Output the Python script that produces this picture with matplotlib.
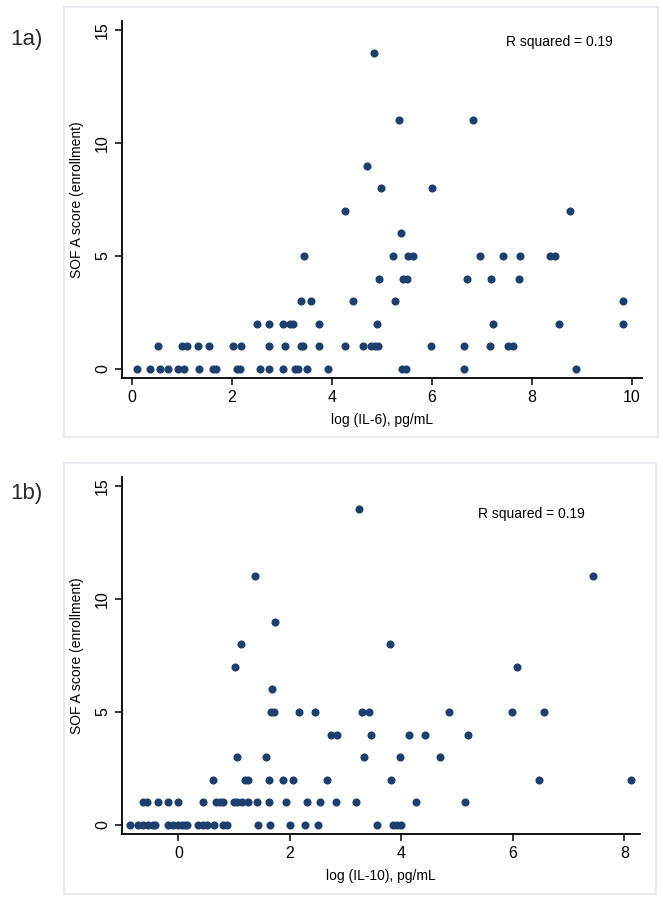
import matplotlib
matplotlib.use("Agg")
import matplotlib.pyplot as plt
from matplotlib.patches import Rectangle

plt.rcParams['font.family'] = ['Liberation Sans', 'DejaVu Sans']

# panel a: log(IL-6) values grouped by SOFA score
il6_levels = [0, 1, 2, 3, 4, 5, 6, 7, 8, 9, 11, 14]
il6_x = [
    [0.10, 0.37, 0.56, 0.72, 0.93, 1.05, 1.35, 1.63, 1.68, 2.10, 2.16, 2.56, 2.75,
     3.03, 3.26, 3.33, 3.51, 3.92, 5.41, 5.48, 6.64, 8.89],
    [0.53, 1.00, 1.10, 1.33, 1.55, 2.03, 2.19, 2.75, 3.06, 3.38, 3.42, 3.74, 4.26,
     4.62, 4.79, 4.86, 4.93, 5.98, 6.65, 7.17, 7.53, 7.63],
    [2.51, 2.75, 3.03, 3.16, 3.23, 3.74, 4.90, 7.23, 8.55, 9.82],
    [3.39, 3.58, 4.42, 5.27, 9.83],
    [4.95, 5.43, 5.50, 6.71, 7.18, 7.75],
    [3.45, 5.23, 5.53, 5.62, 6.97, 7.43, 7.77, 8.37, 8.47],
    [5.38],
    [4.27, 8.77],
    [4.99, 6.00],
    [4.70],
    [5.35, 6.83],
    [4.84],
]

# panel b: log(IL-10) values grouped by SOFA score
il10_levels = [0, 1, 2, 3, 4, 5, 6, 7, 8, 9, 11, 14]
il10_x = [
    [-0.87, -0.72, -0.63, -0.54, -0.46, -0.42, -0.18, -0.09, 0.00, 0.06, 0.12, 0.16,
     0.36, 0.44, 0.51, 0.64, 0.81, 0.87, 1.43, 1.64, 2.00, 2.27, 2.51, 3.56, 3.85,
     3.92, 3.99],
    [-0.63, -0.56, -0.36, -0.18, -0.01, 0.45, 0.68, 0.75, 0.81, 1.00, 1.06, 1.14,
     1.25, 1.41, 1.63, 1.94, 2.30, 2.54, 2.83, 3.18, 4.26, 5.14],
    [0.62, 1.20, 1.25, 1.63, 1.88, 2.05, 2.66, 3.82, 6.46, 8.12],
    [1.05, 1.58, 3.33, 3.98, 4.69],
    [2.73, 2.85, 3.45, 4.13, 4.43, 5.19],
    [1.66, 1.72, 2.17, 2.45, 3.30, 3.42, 4.85, 5.98, 6.55],
    [1.68],
    [1.02, 6.07],
    [1.13, 3.79],
    [1.73],
    [1.37, 7.44],
    [3.24],
]

fig = plt.figure(figsize=(6.63, 9.0), dpi=100)
W, H = 663, 900

def px_axes(l, t, r, b):
    return fig.add_axes([l / W, 1 - b / H, (r - l) / W, (b - t) / H])

# light frames round each panel
for (l, t, r, b) in [(64, 7, 658, 437), (64, 463, 656, 894)]:
    fig.patches.append(Rectangle((l / W, 1 - b / H), (r - l) / W, (b - t) / H,
                                 transform=fig.transFigure, fill=False,
                                 edgecolor='#e6eaee', linewidth=1.5))

panels = [
    (il6_levels, il6_x, (122, 21, 642, 378), (-0.19, 10.2), range(0, 11, 2),
     'log (IL-6), pg/mL', '1a)', 39, (0.842, 0.94)),
    (il10_levels, il10_x, (122, 477, 640, 834), (-1.01, 8.28), range(0, 9, 2),
     'log (IL-10), pg/mL', '1b)', 494, (0.79, 0.895)),
]

for levels, xs, box, xlim, xt, xlabel, tag, tag_y, rpos in panels:
    ax = px_axes(*box)
    for lev, row in zip(levels, xs):
        ax.scatter(row, [lev] * len(row), s=34, color='#1c3f6e', linewidths=0, zorder=3)
    ax.set_xlim(*xlim)
    ax.set_ylim(-0.4, 15.4)
    ax.set_xticks(list(xt))
    ax.set_yticks([0, 5, 10, 15])
    for sp in ['top', 'right']:
        ax.spines[sp].set_visible(False)
    for sp in ['left', 'bottom']:
        ax.spines[sp].set_linewidth(1.3)
    ax.tick_params(direction='out', length=5, width=1.1, labelsize=11.5)
    for lab in ax.get_yticklabels():
        lab.set_rotation(90)
        lab.set_va('center')
    ax.set_xlabel(xlabel, fontsize=10, labelpad=6)
    ax.set_ylabel('SOF A score (enrollment)', fontsize=10, labelpad=8)
    ax.text(rpos[0], rpos[1], 'R squared = 0.19', transform=ax.transAxes,
            ha='center', va='center', fontsize=10)
    fig.text(10 / W, 1 - tag_y / H, tag, fontsize=16, color='#2a2a2a', va='center', ha='left')

fig.savefig('out.png', dpi=100)
